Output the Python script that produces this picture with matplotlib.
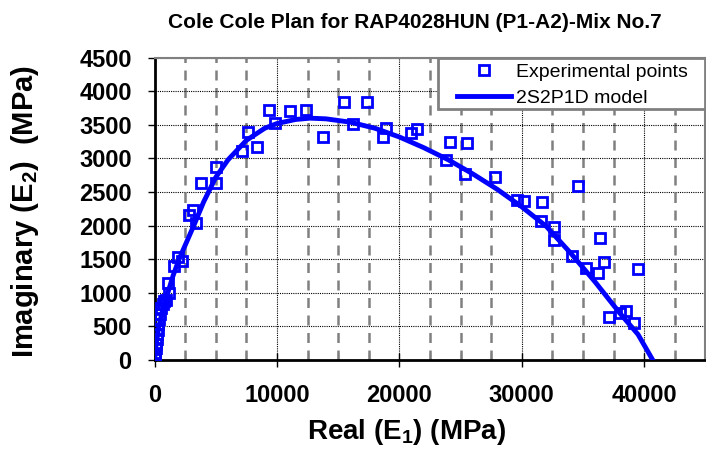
import matplotlib
matplotlib.use('Agg')
import matplotlib.pyplot as plt
from matplotlib.patches import Rectangle
from matplotlib.ticker import MultipleLocator

plt.rcParams['font.family'] = ['Liberation Sans', 'DejaVu Sans']
plt.rcParams['mathtext.fontset'] = 'custom'
plt.rcParams['mathtext.rm'] = 'Liberation Sans'
plt.rcParams['mathtext.bf'] = 'Liberation Sans:bold'

# experimental points (E1, E2) in MPa
exp_e1 = [20, 40, 60, 90, 120, 160, 200, 250, 310, 380, 460, 560, 680, 800, 920,
          1190, 1110, 1600, 1920, 2200,
          2800, 3150, 3370, 3830, 5050, 5050, 7140, 7630, 8390, 9340, 9800,
          11030, 12390, 13740, 15510, 16190, 17360, 18630, 18910,
          20950, 21480, 23800, 24150, 25370, 25510, 27820, 29640, 30180, 31540,
          31620, 32620, 32620, 34120, 34610, 35260, 36230, 36430, 36700, 37100,
          38060, 38550, 39140, 39500]
exp_e2 = [20, 60, 110, 170, 240, 310, 380, 450, 530, 610, 690, 770, 830, 870, 893,
          1002, 1141, 1403, 1537, 1478,
          2158, 2232, 2034, 2629, 2629, 2877, 3115, 3398, 3175, 3720, 3522,
          3705, 3720, 3323, 3844, 3512, 3844, 3323, 3448,
          3374, 3433, 2976, 3240, 2768, 3224, 2728, 2381, 2371, 2068,
          2356, 1975, 1786, 1552, 2589, 1364, 1300, 1811, 1454, 635,
          695, 729, 546, 1354]

# 2S2P1D model curve
model_e1 = [0, 100, 300, 600, 1000, 1500, 2000, 2600, 3200, 4000, 5000, 6000,
            7500, 9000, 10000, 11500, 12700, 14000, 16000, 18000, 20000, 22000,
            24000, 26000, 28000, 30000, 32000, 34000, 36000, 38000, 39500, 40700]
model_e2 = [0, 200, 450, 700, 950, 1250, 1500, 1750, 2000, 2350, 2720, 2980,
            3270, 3450, 3520, 3580, 3600, 3590, 3540, 3450, 3320, 3160,
            2980, 2770, 2540, 2280, 1990, 1590, 1160, 700, 380, 0]

fig = plt.figure(figsize=(7.06, 4.51), dpi=100)
ax = fig.add_axes([0.219, 0.202, 0.78, 0.670])

ax.plot(exp_e1, exp_e2, 's', ms=7, mfc='none', mec='#0000ff', mew=2,
        label='Experimental points', zorder=3)
ax.plot(model_e1, model_e2, '-', color='#0000ff', lw=3.5,
        label='2S2P1D model', zorder=4)

ax.set_xlim(0, 45000)
ax.set_ylim(0, 4500)
ax.xaxis.set_major_locator(MultipleLocator(10000))
ax.xaxis.set_minor_locator(MultipleLocator(2500))
ax.yaxis.set_major_locator(MultipleLocator(500))

ax.grid(True, which='major', axis='both', color='black', lw=0.8, ls=(0, (1, 1)))
ax.grid(True, which='minor', axis='x', color='#808080', lw=1.8, ls=(0, (4, 3)))

ax.tick_params(axis='x', which='major', direction='inout', length=10, width=1,
               labelsize=17, pad=12)
ax.tick_params(axis='x', which='minor', direction='in', length=5, width=1,
               color='#808080')
ax.tick_params(axis='y', which='major', direction='out', length=5, width=1,
               labelsize=17, pad=11.5)
for lab in ax.get_xticklabels() + ax.get_yticklabels():
    lab.set_fontweight('bold')

for side in ['left', 'bottom']:
    ax.spines[side].set_linewidth(2)
    ax.spines[side].set_color('black')
for side in ['top', 'right']:
    ax.spines[side].set_linewidth(1.5)
    ax.spines[side].set_color('#808080')

ax.set_xlabel(r'Real ($\mathbf{E_1}$) (MPa)', fontsize=20, fontweight='bold')
ax.xaxis.set_label_coords(0.458, -0.19)
ax.set_ylabel(r'Imaginary ($\mathbf{E_2}$)  (MPa)', fontsize=21, fontweight='bold')
ax.yaxis.set_label_coords(-0.206, 0.49)

fig.text(0.588, 0.951, 'Cole Cole Plan for RAP4028HUN (P1-A2)-Mix No.7',
         fontsize=15, fontweight='bold', ha='center', va='center')

# legend box drawn separately so its padding matches the original
ax.add_patch(Rectangle((0.515, 0.831), 0.485, 0.169, transform=ax.transAxes,
                       facecolor='white', edgecolor='#808080', lw=2,
                       zorder=5, clip_on=False))
leg = ax.legend(loc='upper left', bbox_to_anchor=(0.549, 0.982), fontsize=14,
                frameon=False, borderaxespad=0, borderpad=0, handlelength=2.8,
                numpoints=1, labelspacing=0.42, handletextpad=0.25)
leg.set_zorder(6)

fig.savefig('out.png', dpi=100)
